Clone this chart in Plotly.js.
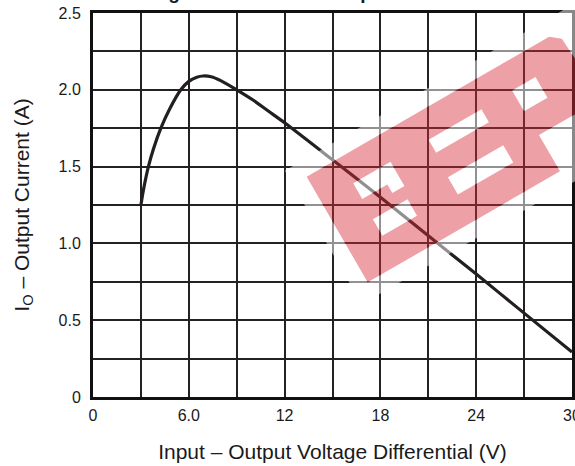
<!DOCTYPE html>
<html>
<head>
<meta charset="utf-8">
<script src="https://cdn.plot.ly/plotly-3.0.1.min.js"></script>
<style>html,body{margin:0;padding:0;background:#fff;}#chart{width:575px;height:466px;}</style>
</head>
<body>
<div id="chart"></div>
<script>
// ---- data ----
const voltageDiff = [3.0, 3.2, 3.47, 3.8, 4.25, 4.8, 5.5, 6.0, 6.5, 6.9, 7.4, 8.0, 9.0, 10.0, 11.0, 12.0, 15.0, 18.0, 21.0, 24.0, 27.0, 30.0];
const outputCurrent = [1.25, 1.37, 1.5, 1.62, 1.75, 1.875, 2.0, 2.055, 2.082, 2.09, 2.085, 2.06, 2.0, 1.935, 1.86, 1.785, 1.544, 1.30, 1.05, 0.80, 0.546, 0.293];
const xTickVals = [0, 6, 12, 18, 24, 30];
const xTickText = ['0', '6.0', '12', '18', '24', '30'];
const yTickVals = [0, 0.5, 1.0, 1.5, 2.0, 2.5];
const yTickText = ['0', '0.5', '1.0', '1.5', '2.0', '2.5'];
const xGridStep = 3;
const yGridStep = 0.25;
const chartTitle = 'Current Limiting Characteristic vs Input Differential';
const xTitle = 'Input – Output Voltage Differential (V)';
const yTitle = 'I<sub>O</sub> – Output Current (A)';

// ---- layout geometry ----
const W = 575, H = 466;
const M = {l: 93, r: 3, t: 13, b: 69};
const pw = W - M.l - M.r, ph = H - M.t - M.b;
function toPaper(px, py) { return [(px - M.l) / pw, (M.t + ph - py) / ph]; }

// watermark (decoration) drawn in a rotated local frame, pixel units
const wmOrigin = [306.7, 176.7], wmAngle = -30 * Math.PI / 180;
function local(s, t) {
  const ux = Math.cos(wmAngle), uy = Math.sin(wmAngle);
  const vx = -uy, vy = ux;
  const p = toPaper(wmOrigin[0] + s * ux + t * vx, wmOrigin[1] + s * uy + t * vy);
  return p[0].toFixed(5) + ',' + p[1].toFixed(5);
}
function poly(pts) { return 'M' + pts.map(p => local(p[0], p[1])).join(' L') + ' Z'; }
function rect(s0, s1, t0, t1) { return poly([[s0, t0], [s1, t0], [s1, t1], [s0, t1]]); }

const bandOutline = poly([[0, 0], [280, 0], [290, 8], [294, 80], [222, 80], [222, 122], [0, 122]]);
const holes = [
  rect(37, 80, 29, 47),
  rect(66, 80, 47, 57),
  rect(36, 76, 70, 89),
  rect(124, 185, 29, 44),
  rect(122, 186, 71, 91),
  rect(221, 248, 28, 52)
].join(' ');
const haloOuter = rect(-16, 320, -16, 138);

const trace = {
  x: voltageDiff, y: outputCurrent, type: 'scatter', mode: 'lines',
  line: {color: '#231f20', width: 3.2, shape: 'spline', smoothing: 0.8},
  hoverinfo: 'skip', showlegend: false
};

const FONT = 'Arial, "Liberation Sans", sans-serif';
const tickFont = {family: FONT, size: 16, color: '#1a1a1a'};
const titleFont = {family: FONT, size: 21, color: '#1a1a1a'};
const gridColor = '#222';

const layout = {
  width: W, height: H,
  margin: M,
  paper_bgcolor: '#fff', plot_bgcolor: '#fff',
  showlegend: false,
  xaxis: {
    range: [0, 30], tickvals: xTickVals, ticktext: xTickText,
    showline: true, linecolor: '#111', linewidth: 3, mirror: true,
    showgrid: true, gridcolor: gridColor, gridwidth: 2,
    minor: {dtick: xGridStep, tick0: 0, showgrid: true, gridcolor: gridColor, gridwidth: 2},
    zeroline: false, ticks: '', tickfont: tickFont, fixedrange: true,
    ticklabeloverflow: 'allow', ticklabelstandoff: 2,
    title: {text: xTitle, font: titleFont, standoff: 22}
  },
  yaxis: {
    range: [0, 2.5], tickvals: yTickVals, ticktext: yTickText,
    showline: true, linecolor: '#111', linewidth: 3, mirror: true,
    showgrid: true, gridcolor: gridColor, gridwidth: 2,
    minor: {dtick: yGridStep, tick0: 0, showgrid: true, gridcolor: gridColor, gridwidth: 2},
    zeroline: false, ticks: '', tickfont: tickFont, fixedrange: true,
    ticklabeloverflow: 'allow', ticklabelstandoff: 6,
    title: {text: yTitle, font: titleFont, standoff: 24}
  },
  annotations: [{
    text: '<b>' + chartTitle + '</b>', xref: 'paper', yref: 'paper',
    x: 0.355, y: 1.02, xanchor: 'center', yanchor: 'bottom', showarrow: false,
    font: {family: FONT, size: 19, color: '#1a1a1a'}
  }],
  shapes: [
    {type: 'path', xref: 'paper', yref: 'paper', layer: 'above', fillrule: 'evenodd',
     path: haloOuter + ' ' + bandOutline + ' ' + holes,
     fillcolor: 'rgba(255,255,255,0.5)', line: {width: 0}},
    {type: 'path', xref: 'paper', yref: 'paper', layer: 'above', fillrule: 'evenodd',
     path: bandOutline + ' ' + holes,
     fillcolor: 'rgba(214,45,55,0.45)', line: {width: 0}}
  ]
};

Plotly.newPlot('chart', [trace], layout, {displayModeBar: false, staticPlot: true});
</script>
</body>
</html>
